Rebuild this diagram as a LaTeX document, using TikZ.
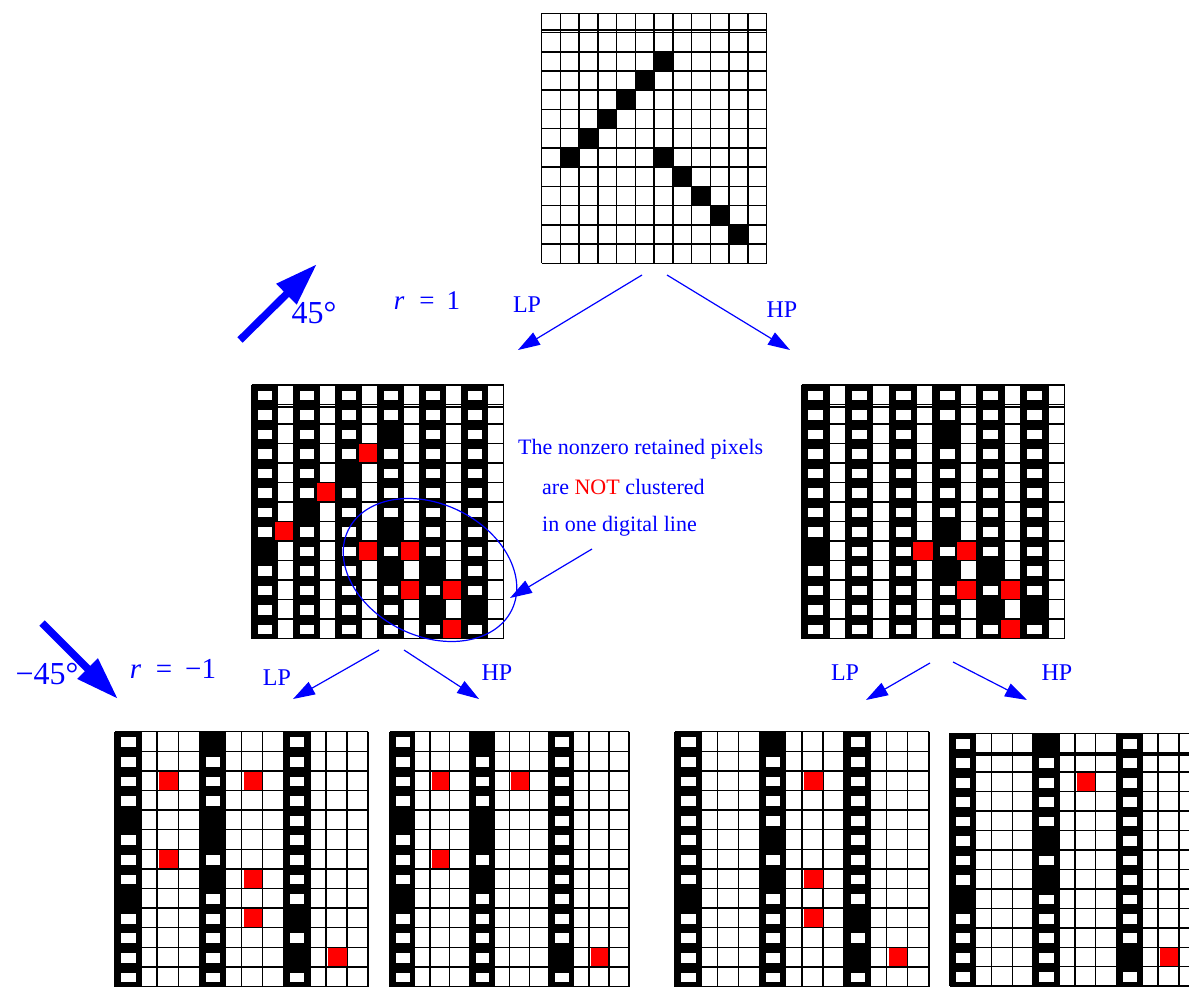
\documentclass[tikz,border=0pt]{standalone}
\usepackage{fontspec}
\setmainfont{Liberation Serif}
\usetikzlibrary{arrows.meta,shapes.geometric}
\definecolor{pxred}{RGB}{255,0,0}
\definecolor{txtblue}{RGB}{0,0,255}

% plain grid: x0 y0 w h blacklist doubleoffset
\newcommand\plaingrid[6]{%
\begin{scope}[shift={(#1,#2)}]
  \foreach \gx/\gy in {#5} \fill[black] (\gx*#3,\gy*#4) rectangle (\gx*#3+#3,\gy*#4+#4);
  \foreach \gi in {0,...,12} \draw[gridline] (\gi*#3,0) -- (\gi*#3,13*#4);
  \foreach \gj in {0,...,13} \draw[gridline] (0,\gj*#4) -- (12*#3,\gj*#4);
  \draw[gridline] (0,#4+#6) -- (12*#3,#4+#6);
\end{scope}}

% striped grid: x0 y0 w h stripecols blacklist redlist doubleoffset
\newcommand\stripegrid[8]{%
\begin{scope}[shift={(#1,#2)}]
  \foreach \gi in {0,...,12} \draw[gridline] (\gi*#3,0) -- (\gi*#3,13*#4);
  \foreach \gj in {0,...,13} \draw[gridline] (0,\gj*#4) -- (12*#3,\gj*#4);
  \draw[gridline] (0,#4+#8) -- (12*#3,#4+#8);
  \foreach \gx in {#5} {%
    \fill[black] (\gx*#3,-0.3) rectangle (\gx*#3+1.27*#3,13*#4+0.3);
    \foreach \gy in {0,...,12}
      \fill[white] (\gx*#3+0.3*#3,\gy*#4+0.29*#4) rectangle (\gx*#3+0.98*#3,\gy*#4+0.79*#4);
  }
  \foreach \gx/\gy in {#6} \fill[black] (\gx*#3,\gy*#4) rectangle (\gx*#3+1.27*#3,\gy*#4+#4);
  \foreach \gx/\gy in {#7} \fill[pxred] (\gx*#3+2,\gy*#4+0.6) rectangle (\gx*#3+#3-0.5,\gy*#4+#4-0.6);
\end{scope}}

\begin{document}
\begin{tikzpicture}[x=1pt,y=-1pt,
  gridline/.style={line width=1.5pt,black},
  lbl/.style={text=txtblue,inner sep=0pt},
  thinarrow/.style={draw=txtblue,line width=1.2pt,-{Triangle[length=22pt,width=14pt]}},
  bigarrow/.style={draw=txtblue,line width=7.5pt,-{Triangle[length=43pt,width=27pt]}}]
\useasboundingbox[fill=white] (0,0) rectangle (1189,987);
\begin{scope}
\clip (0,0) rectangle (1189,987);

% grids
\plaingrid{541.5}{13.3}{18.75}{19.23}{6/2,5/3,4/4,3/5,2/6,1/7,6/7,7/8,8/9,9/10,10/11}{-2.6}
\stripegrid{251.7}{385}{21.0}{19.5}{0,2,4,6,8,10}{0/8,2/6,4/4,6/2,6/7,6/9,8/9,8/11,10/11}{5/3,3/5,1/7,5/8,7/8,7/10,9/10,9/12}{2.4}
\stripegrid{801.7}{385}{21.9}{19.5}{0,2,4,6,8,10}{0/8,6/2,6/7,6/9,8/9,8/11,10/11}{5/8,7/8,7/10,9/10,9/12}{2.4}
\stripegrid{115}{731.7}{21.1}{19.6}{0,4,8}{0/4,0/8,4/0,4/4,4/5,4/7,8/9,8/11}{2/2,6/2,2/6,6/7,6/9,10/11}{0}
\stripegrid{390}{731.7}{19.9}{19.6}{0,4,8}{0/4,0/8,4/0,4/4,4/5,4/7,8/11}{2/2,6/2,2/6,10/11}{0}
\stripegrid{675}{731.7}{21.15}{19.6}{0,4,8}{0/8,4/0,4/5,4/7,8/9,8/11}{6/2,6/7,6/9,10/11}{0}
\stripegrid{950}{733.3}{20.8}{19.45}{0,4,8}{0/8,4/0,4/5,4/7,8/11}{6/2,10/11}{2.4}
\end{scope}

% cluster ellipse
\node[draw=txtblue,line width=1.2pt,ellipse,minimum width=182pt,minimum height=132pt,rotate=-26,inner sep=0pt] (clus) at (430,570) {};

% arrow end points
\coordinate (a45s) at (240,340);  \coordinate (a45e) at (317,264);
\coordinate (am45s) at (42,623);  \coordinate (am45e) at (118,699);
\coordinate (tls) at (642,275);   \coordinate (tle) at (518,350);
\coordinate (ths) at (667,275);   \coordinate (the) at (790,350);
\coordinate (mlls) at (379,650);  \coordinate (mlle) at (293,699);
\coordinate (mlhs) at (404,650);  \coordinate (mlhe) at (479,699);
\coordinate (mrls) at (930,663);  \coordinate (mrle) at (866,700);
\coordinate (mrhs) at (953,662);  \coordinate (mrhe) at (1027,700);
\coordinate (anns) at (592,549);  \coordinate (anne) at (510,598);

\draw[bigarrow] (a45s) -- (a45e);
\draw[bigarrow] (am45s) -- (am45e);
\draw[thinarrow] (tls) -- (tle);
\draw[thinarrow] (ths) -- (the);
\draw[thinarrow] (mlls) -- (mlle);
\draw[thinarrow] (mlhs) -- (mlhe);
\draw[thinarrow] (mrls) -- (mrle);
\draw[thinarrow] (mrhs) -- (mrhe);
\draw[thinarrow] (anns) -- (anne);

% labels
\node[lbl,font=\fontsize{32}{36}\selectfont] (t45) at (314,313) {45°};
\node[lbl,font=\fontsize{27}{32}\selectfont] (tr1) at (427,301) {\textit{r}\hspace{0.55em}=\hspace{0.45em}1};
\node[lbl,font=\fontsize{32}{36}\selectfont] (tm45) at (47,674) {−45°};
\node[lbl,font=\fontsize{29}{34}\selectfont] (trm1) at (173,669) {\textit{r}\hspace{0.5em}=\hspace{0.45em}−1};
\node[lbl,font=\fontsize{24}{28}\selectfont] (lp1) at (527,305) {LP};
\node[lbl,font=\fontsize{24}{28}\selectfont] (hp1) at (782,310) {HP};
\node[lbl,font=\fontsize{24}{28}\selectfont] (lp2) at (277,678) {LP};
\node[lbl,font=\fontsize{24}{28}\selectfont] (hp2) at (497,673) {HP};
\node[lbl,font=\fontsize{24}{28}\selectfont] (lp3) at (845,673) {LP};
\node[lbl,font=\fontsize{24}{28}\selectfont] (hp3) at (1057,673) {HP};
\node[lbl,font=\fontsize{22}{26}\selectfont,anchor=west] (ann1) at (518,449) {The nonzero retained pixels};
\node[lbl,font=\fontsize{22}{26}\selectfont,anchor=west] (ann2) at (542,487) {are \textcolor{pxred}{NOT} clustered};
\node[lbl,font=\fontsize{22}{26}\selectfont,anchor=west] (ann3) at (542,526) {in one digital line};
\end{tikzpicture}
\end{document}
